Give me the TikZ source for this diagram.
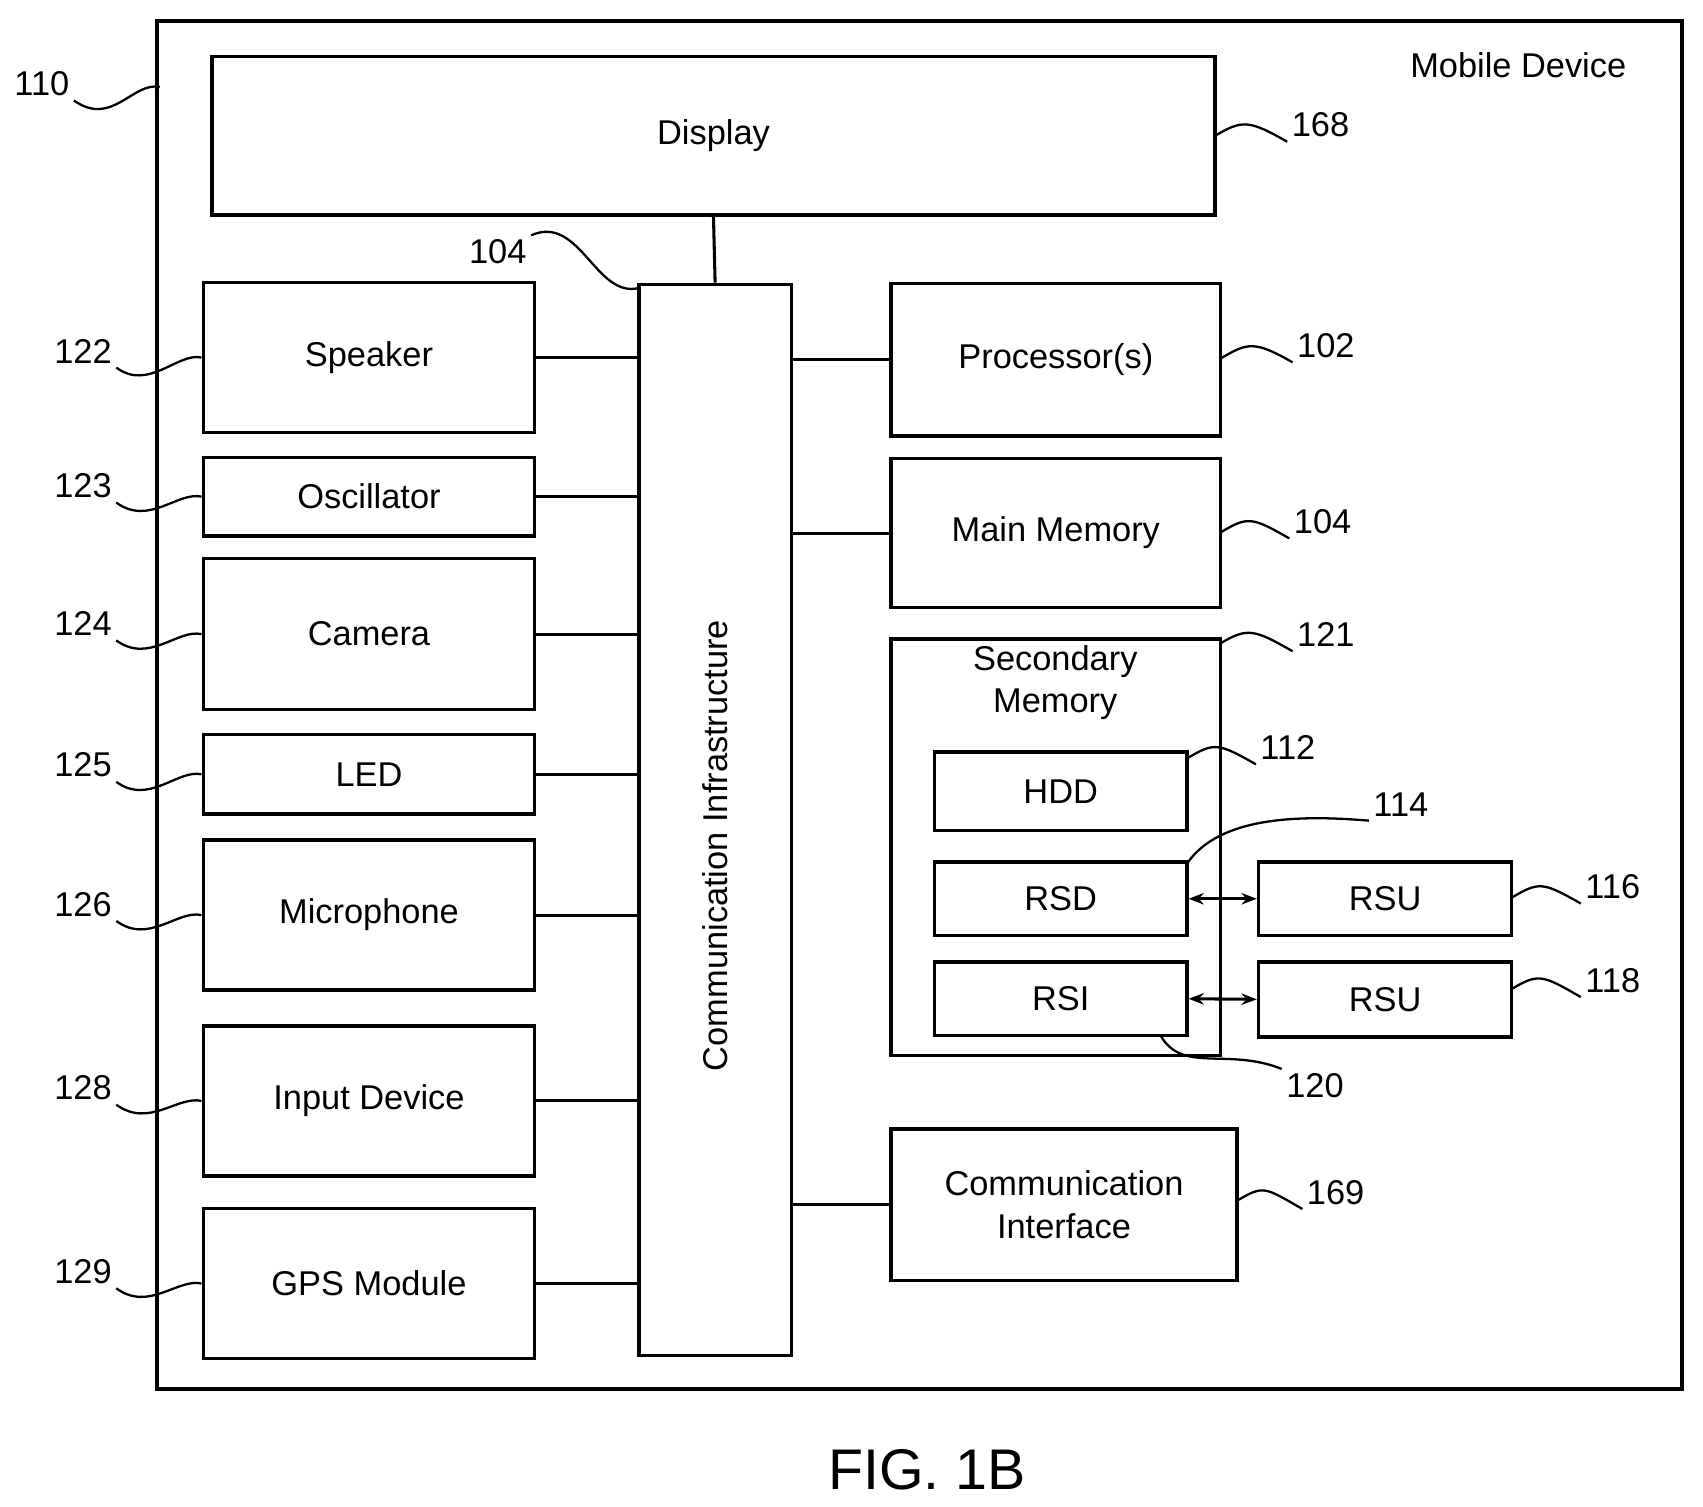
\documentclass[tikz,border=0pt]{standalone}
\usepackage{fontspec}
\setmainfont{Liberation Sans}
\usetikzlibrary{arrows.meta}
\begin{document}
\begin{tikzpicture}[x=0.01cm,y=-0.01cm,
  box/.style={draw,line width=0.9pt,inner sep=0pt,font=\fontsize{9}{11}\selectfont,align=center},
  lab/.style={font=\fontsize{9}{11}\selectfont,inner sep=1pt},
  sq/.style={line width=0.6pt},
  con/.style={line width=0.8pt}]
\useasboundingbox (0,0) rectangle (1567,1386);
\newcommand{\bx}[6]{\node[box,minimum width={(#4-#2)*0.01cm},minimum height={(#5-#3)*0.01cm}] (#1) at ({(#2+#4)/2},{(#3+#5)/2}) {#6};}
\node[draw,line width=1pt,minimum width=14.02cm,minimum height=12.58cm,inner sep=0pt] (frame) at (846,649) {};
\node[lab] (md) at (1397,60) {Mobile Device};
\bx{disp}{195}{52}{1118}{198}{Display}
\node[draw,line width=0.9pt,minimum width=1.4cm,minimum height=9.85cm,inner sep=0pt] (ci) at (658,754.5) {};
\node[font=\fontsize{9}{11}\selectfont,rotate=90] (cit) at (658,778) {Communication Infrastructure};
\draw[con] (disp.south) -- (ci.north);
\bx{spk}{187}{260}{492}{398}{Speaker}
\bx{osc}{187}{421}{492}{493}{Oscillator}
\bx{cam}{187}{514}{492}{653}{Camera}
\bx{led}{187}{676}{492}{749}{LED}
\bx{mic}{187}{773}{492}{911}{Microphone}
\bx{inp}{187}{944}{492}{1082}{Input Device}
\bx{gps}{187}{1112}{492}{1250}{GPS Module}
\foreach \n in {spk,osc,cam,led,mic,inp,gps}{\draw[con] (\n.east) -- (\n.east -| ci.west);}
\bx{proc}{820}{261}{1123}{401}{Processor(s)}
\bx{mem}{820}{422}{1123}{559}{Main Memory}
\node[draw,line width=0.9pt,minimum width=3.03cm,minimum height=3.83cm,inner sep=0pt] (sec) at (971.5,779.5) {};
\node[lab,align=center] (sect) at (971,628) {Secondary\\Memory};
\bx{hdd}{860}{692}{1092}{764}{HDD}
\bx{rsd}{860}{793}{1092}{861}{RSD}
\bx{rsi}{860}{885}{1092}{953}{RSI}
\bx{rsu1}{1158}{793}{1391}{861}{RSU}
\bx{rsu2}{1158}{885}{1391}{954}{RSU}
\bx{cif}{820}{1039}{1138}{1178}{Communication\\Interface}
\foreach \n in {proc,mem,cif}{\draw[con] (\n.west) -- (\n.west -| ci.east);}
\draw[con,{Stealth[length=4pt]}-{Stealth[length=4pt]}] (rsd.east) -- (rsu1.west);
\draw[con,{Stealth[length=4pt]}-{Stealth[length=4pt]}] (rsi.east) -- (rsu2.west);
\node[font=\fontsize{15}{18}\selectfont] (fig) at (853,1352) {FIG. 1B};
% left labels
\node[lab,anchor=east] (l110) at (68,77) {110};
\foreach \n/\t/\y in {l122/122/323,l123/123/447,l124/124/574,l125/125/704,l126/126/832,l128/128/1001,l129/129/1170}{\node[lab,anchor=east] (\n) at (107,\y) {\t};}
\coordinate (c110) at (147,80);
\draw[sq] (l110.south east) .. controls +(35,25) and +(-25,-5) .. (c110);
\foreach \n/\b in {l122/spk,l123/osc,l124/cam,l125/led,l126/mic,l128/inp,l129/gps}{
  \draw[sq] (\n.south east) .. controls +(30,22) and +(-22,-5) .. (\b.west);}
% right labels
\foreach \n/\t/\x/\y in {r168/168/1215/115,r102/102/1220/318,r104/104/1217/480,r121/121/1220/584,r112/112/1185/688,r116/116/1484/816,r118/118/1484/902,r169/169/1229/1097,r114/114/1289/740,r120/120/1210/999}{\node[lab] (\n) at (\x,\y) {\t};}
\coordinate (a168) at (1118,125);
\coordinate (a102) at (1123,330);
\coordinate (a104) at (1123,490);
\coordinate (a121) at (1123,592);
\coordinate (a112) at (1092,698);
\coordinate (a116) at (1391,826);
\coordinate (a118) at (1391,910);
\coordinate (a169) at (1138,1105);
\foreach \n in {168,102,104,121,112,116,118,169}{
  \draw[sq] (a\n) .. controls +(25,-15) and +(-35,-20) .. (r\n.south west);}
\coordinate (a114) at (1092,795);
\draw[sq] (a114) .. controls +(30,-45) and +(-60,-5) .. (r114.south west);
\coordinate (a120) at (1068,953);
\draw[sq] (a120) .. controls +(20,35) and +(-50,-20) .. (r120.north west);
\node[lab] (l104) at (458,232) {104};
\coordinate (a104b) at (588,265);
\draw[sq] (l104.north east) .. controls +(45,-20) and +(-40,10) .. (a104b);
\end{tikzpicture}
\end{document}
